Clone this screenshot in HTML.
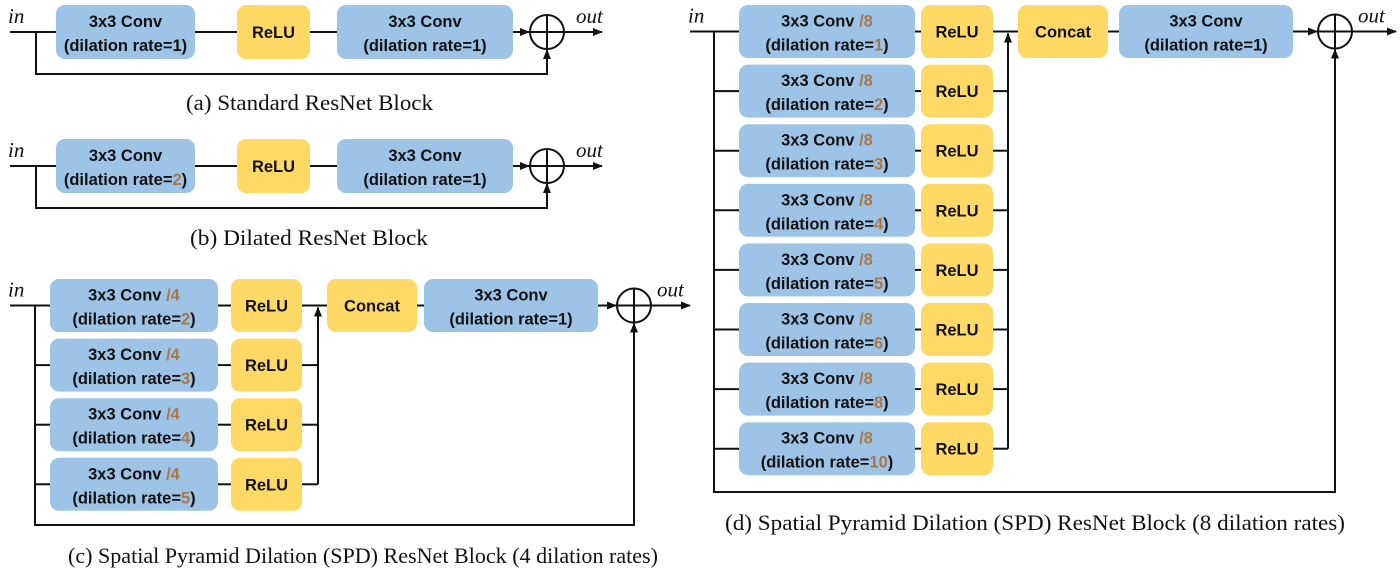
<!DOCTYPE html>
<html><head><meta charset="utf-8"><style>
html,body{margin:0;padding:0;background:#fff;}
svg{display:block;}
.bt{font-family:"Liberation Sans",sans-serif;font-weight:bold;font-size:16.5px;fill:#111;}
.cap{font-family:"Liberation Serif",serif;font-size:22px;fill:#111;}
.it{font-family:"Liberation Serif",serif;font-style:italic;font-size:21px;fill:#111;}
.or{fill:#a8784a;}
</style></head><body>
<svg id="s" width="1400" height="583" viewBox="0 0 1400 583">
<defs><marker id="ar" markerWidth="10" markerHeight="8" refX="9" refY="4" orient="auto" markerUnits="userSpaceOnUse"><path d="M0,0 L10,4 L0,8 z" fill="#111"/></marker></defs>
</svg>
<script>
const ratesC = [2,3,4,5];
const ratesD = [1,2,3,4,5,6,8,10];
const NS='http://www.w3.org/2000/svg';
const svg=document.getElementById('s');
function el(t,a,p){const e=document.createElementNS(NS,t);for(const k in a)e.setAttribute(k,a[k]);(p||svg).appendChild(e);return e;}
function line(pts,arrow,name){const e=el('polyline',{points:pts.map(p=>p.join(',')).join(' '),fill:'none',stroke:'#111','stroke-width':2});if(arrow)e.setAttribute('marker-end','url(#ar)');

return e;}
function box(x,y,w,h,color,l1,l2,name,div,rate,hl){
 const g=el('g',{});
 
 
 el('rect',{x,y,width:w,height:h,rx:9,fill:color},g);
 const cx=x+w/2;
 if(l2===undefined){const t=el('text',{x:cx,y:y+h/2+6,'text-anchor':'middle',class:'bt'},g);t.textContent=l1;}
 else{
  const t1=el('text',{x:cx,y:y+h/2-5,'text-anchor':'middle',class:'bt'},g);t1.textContent=l1;
  if(div){const s=el('tspan',{class:'or'},t1);s.textContent=' '+div;}
  const t2=el('text',{x:cx,y:y+h/2+19,'text-anchor':'middle',class:'bt'},g);
  t2.appendChild(document.createTextNode('(dilation rate='));const s=el('tspan',hl?{class:'or'}:{},t2);s.textContent=rate;t2.appendChild(document.createTextNode(')'));
 }
}
function plus(cx,cy,name){const g=el('g',{});
 
 
 el('ellipse',{cx,cy,rx:17,ry:17,fill:'none',stroke:'#111','stroke-width':2},g);
 el('line',{x1:cx-17,y1:cy,x2:cx+17,y2:cy,stroke:'#111','stroke-width':2},g);
 el('line',{x1:cx,y1:cy-17,x2:cx,y2:cy+17,stroke:'#111','stroke-width':2},g);}
function txt(x,y,s,cls,name,len,anchor){const t=el('text',{x,y,class:cls,'text-anchor':anchor||'start'});if(len){t.setAttribute('textLength',len);t.setAttribute('lengthAdjust','spacingAndGlyphs');}t.textContent=s;

}
const BLUE='#9dc3e6',YEL='#ffd966';
function simple(y0,rate,hl,tag,cap,capx,capw,capy){
 const cy=y0+27,h=54;
 line([[10,cy],[56,cy]],false,'input-line-'+tag);
 line([[195,cy],[237,cy]]);line([[310,cy],[337,cy]]);
 line([[513,cy],[529,cy]],true);line([[564,cy],[602,cy]],true,'output-arrow-'+tag);
 line([[36,cy],[36,y0+69],[547,y0+69],[547,cy+18]],true,'skip-connection-'+tag);
 box(56,y0,139,h,BLUE,'3x3 Conv','x','conv1-'+tag,null,rate,hl);
 box(237,y0,73,h,YEL,'ReLU',undefined,'relu-'+tag);
 box(337,y0,176,h,BLUE,'3x3 Conv','x','conv2-'+tag,null,1,false);
 plus(547,cy,'add-'+tag);
 txt(8,cy-9,'in','it','in-label-'+tag);txt(576,cy-9,'out','it','out-label-'+tag);
 txt(capx,capy,cap,'cap','caption-'+tag,capw);
}
simple(5,1,false,'a','(a) Standard ResNet Block',186,247,110);
simple(139,2,true,'b','(b) Dilated ResNet Block',190,238,245);
function pyr(o){
 const n=o.rates.length,P=59.6,h=53;
 const yc=i=>o.y0+h/2+i*P;
 const last=yc(n-1);
 line([[o.inx,yc(0)],[o.bx,yc(0)]],false,'input-line-'+o.tag);
 line([[o.vx,yc(0)],[o.vx,o.skipY],[o.px,o.skipY],[o.px,yc(0)+18]],true,'skip-connection-'+o.tag);
 o.rates.forEach((r,i)=>{
  const y=o.y0+i*P;
  if(i>0)line([[o.vx,yc(i)],[o.bx,yc(i)]]);
  line([[o.bx+o.bw,yc(i)],[o.rx,yc(i)]]);
  line([[o.rx+o.rw,yc(i)],[o.cx,yc(i)]]);
  box(o.bx,y,o.bw,h,BLUE,'3x3 Conv','x','branch-conv-rate-'+r,o.div,r,true);
  box(o.rx,y,o.rw,h,YEL,'ReLU',undefined,'branch-relu-'+r);
 });
 line([[o.cx,last],[o.cx,yc(0)+2]],true,'concat-collector-'+o.tag);
 line([[o.cx,yc(0)],[o.kx,yc(0)]]);
 box(o.kx,o.y0,o.kw,h,YEL,'Concat',undefined,'concat-'+o.tag);
 line([[o.kx+o.kw,yc(0)],[o.fx,yc(0)]]);
 box(o.fx,o.y0,o.fw,h,BLUE,'3x3 Conv','x','final-conv-'+o.tag,null,1,false);
 line([[o.fx+o.fw,yc(0)],[o.px-18,yc(0)]],true);
 line([[o.px+17,yc(0)],[o.outx,yc(0)]],true,'output-arrow-'+o.tag);
 plus(o.px,yc(0),'add-'+o.tag);
 txt(o.inx-2,yc(0)-9,'in','it','in-label-'+o.tag);
 txt(o.px+23,yc(0)-9,'out','it','out-label-'+o.tag);
 txt(o.capx,o.capy,o.cap,'cap','caption-'+o.tag,o.capw);
}
pyr({tag:'c',rates:ratesC,div:'/4',y0:279,inx:10,vx:35,bx:50,bw:168,rx:231,rw:71,cx:318,kx:327,kw:90,fx:424,fw:174,px:634,outx:690,skipY:525,
 cap:'(c) Spatial Pyramid Dilation (SPD) ResNet Block (4 dilation rates)',capx:68,capw:590,capy:563});
pyr({tag:'d',rates:ratesD,div:'/8',y0:5,inx:690,vx:714,bx:739,bw:176,rx:921,rw:72,cx:1008,kx:1018,kw:90,fx:1119,fw:174,px:1335,outx:1396,skipY:492,
 cap:'(d) Spatial Pyramid Dilation (SPD) ResNet Block (8 dilation rates)',capx:725,capw:620,capy:530});
</script>
</body></html>
